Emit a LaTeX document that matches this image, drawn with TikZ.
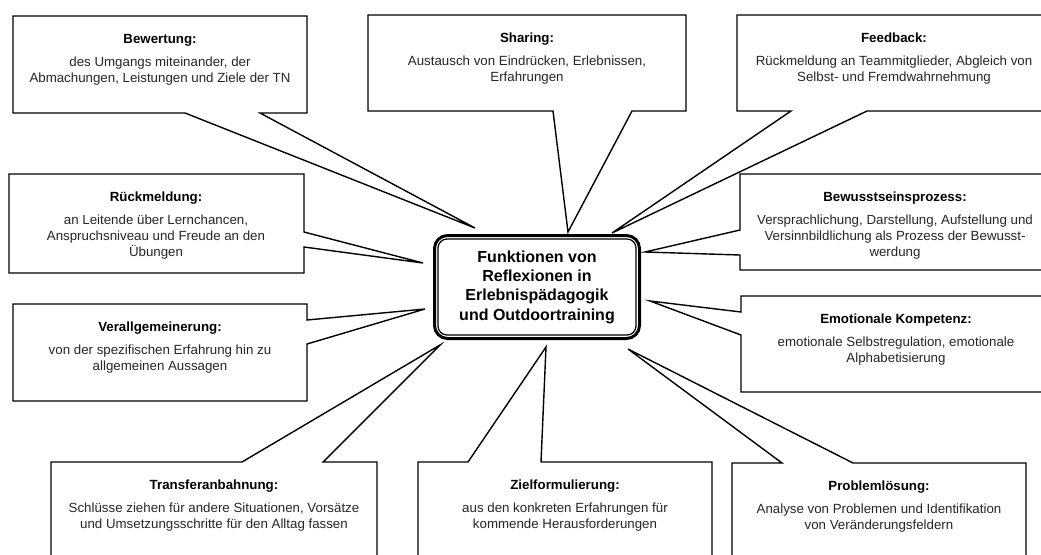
\documentclass[tikz,border=0pt]{standalone}
\usepackage{fontspec}
\setmainfont{Liberation Sans}
\begin{document}
\begin{tikzpicture}[x=1pt,y=-1pt,
  cbox/.style={draw=black, line width=1.4pt, fill=white, line join=miter},
  ttl/.style={anchor=base, inner sep=0pt, font=\fontsize{13.3}{16}\selectfont\bfseries},
  bdy/.style={anchor=north, inner sep=0pt, align=center, font=\fontsize{13.3}{16}\selectfont, text=black!85},
  hub/.style={draw=black, line width=3pt, rounded corners=13pt, fill=white, minimum width=205pt, minimum height=103pt, align=center, inner sep=0pt, font=\fontsize{16}{19.3}\selectfont\bfseries}]
\useasboundingbox (0,0) rectangle (1041,554);
\fill[white] (0,0) rectangle (1041,554);
\clip (0,0) rectangle (1041,554);

% tips of the callout wedges
\coordinate (tB) at (475,228);
\coordinate (tS) at (568,232);
\coordinate (tF) at (612,233);
\coordinate (tBw) at (645,252);
\coordinate (tE) at (650,301);
\coordinate (tP) at (628,349);
\coordinate (tZ) at (546,347);
\coordinate (tT) at (440,345);
\coordinate (tV) at (425,309);
\coordinate (tR) at (423,263);

% Bewertung
\draw[cbox] (13,16) -- (307,16) -- (307,113) -- (260,113) -- (tB) -- (185,113) -- (13,113) -- cycle;
\node[ttl] (bew1) at (160,43) {Bewertung:};
\node[bdy] (bew2) at (160,55.3) {\strut des Umgangs miteinander, der\\Abmachungen, Leistungen und Ziele der TN};

% Sharing
\draw[cbox] (368,15) -- (686,15) -- (686,111) -- (632,111) -- (tS) -- (553,111) -- (368,111) -- cycle;
\node[ttl] (sha1) at (527,42) {Sharing:};
\node[bdy] (sha2) at (527,54.3) {\strut Austausch von Eindrücken, Erlebnissen,\\Erfahrungen};

% Feedback
\draw[cbox] (737,15) -- (1060,15) -- (1060,111) -- (867,111) -- (tF) -- (791,111) -- (737,111) -- cycle;
\node[ttl] (fee1) at (894,42) {Feedback:};
\node[bdy] (fee2) at (894,54.3) {\strut Rückmeldung an Teammitglieder, Abgleich von\\Selbst- und Fremdwahrnehmung};

% Bewusstseinsprozess
\draw[cbox] (740,174) -- (1060,174) -- (1060,270) -- (740,270) -- (740,255) -- (tBw) -- (740,230) -- cycle;
\node[ttl] (bwp1) at (895,201) {Bewusstseinsprozess:};
\node[bdy] (bwp2) at (895,213.3) {\strut Versprachlichung, Darstellung, Aufstellung und\\Versinnbildlichung als Prozess der Bewusst-\\werdung};

% Emotionale Kompetenz
\draw[cbox] (741,296) -- (1060,296) -- (1060,392) -- (741,392) -- (741,335) -- (tE) -- (741,312) -- cycle;
\node[ttl] (emo1) at (896,323) {Emotionale Kompetenz:};
\node[bdy] (emo2) at (896,335.3) {\strut emotionale Selbstregulation, emotionale\\Alphabetisierung};

% Problemloesung
\draw[cbox] (732,463) -- (782,463) -- (tP) -- (853,463) -- (1026,463) -- (1026,570) -- (732,570) -- cycle;
\node[ttl] (pro1) at (879,490) {Problemlösung:};
\node[bdy] (pro2) at (879,502.3) {\strut Analyse von Problemen und Identifikation\\von Veränderungsfeldern};

% Zielformulierung
\draw[cbox] (418,462) -- (468,462) -- (tZ) -- (541,462) -- (712,462) -- (712,570) -- (418,570) -- cycle;
\node[ttl] (zie1) at (565,489) {Zielformulierung:};
\node[bdy] (zie2) at (565,501.3) {\strut aus den konkreten Erfahrungen für\\kommende Herausforderungen};

% Transferanbahnung
\draw[cbox] (51,462) -- (242,462) -- (tT) -- (323,462) -- (377,462) -- (377,570) -- (51,570) -- cycle;
\node[ttl] (tra1) at (214,489) {Transferanbahnung:};
\node[bdy] (tra2) at (214,501.3) {\strut Schlüsse ziehen für andere Situationen, Vorsätze\\und Umsetzungsschritte für den Alltag fassen};

% Verallgemeinerung
\draw[cbox] (13,304) -- (307,304) -- (307,320) -- (tV) -- (307,344) -- (307,401) -- (13,401) -- cycle;
\node[ttl] (ver1) at (160,331) {Verallgemeinerung:};
\node[bdy] (ver2) at (160,343.3) {\strut von der spezifischen Erfahrung hin zu\\allgemeinen Aussagen};

% Rueckmeldung
\draw[cbox] (9,174) -- (304,174) -- (304,232) -- (tR) -- (304,247) -- (304,273) -- (9,273) -- cycle;
\node[ttl] (rue1) at (156,201) {Rückmeldung:};
\node[bdy] (rue2) at (156,213.3) {\strut an Leitende über Lernchancen,\\Anspruchsniveau und Freude an den\\Übungen};

% central box
\node[hub] (hub) at (537,287) {Funktionen von\\Reflexionen in\\Erlebnispädagogik\\und Outdoortraining};
\draw[line width=1.2pt, rounded corners=9pt] ([shift={(5,5)}]hub.north west) rectangle ([shift={(-5,-5)}]hub.south east);
\end{tikzpicture}
\end{document}
